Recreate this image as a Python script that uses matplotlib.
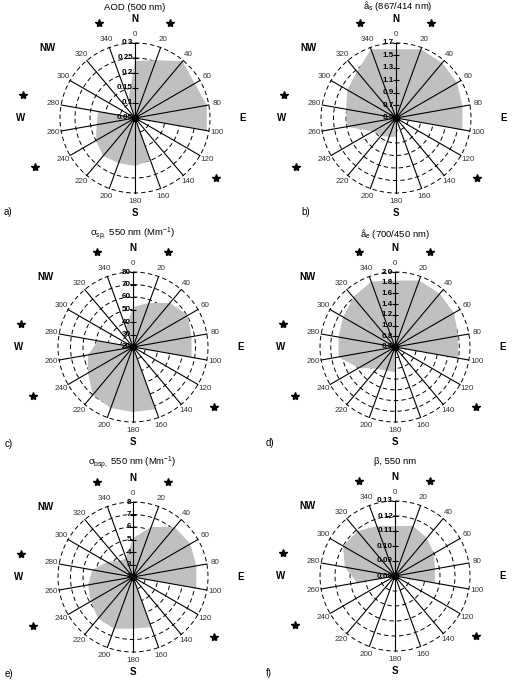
import numpy as np
import matplotlib
matplotlib.use('Agg')
import matplotlib.pyplot as plt

plt.rcParams['font.family'] = ['Liberation Sans', 'DejaVu Sans']
plt.rcParams['mathtext.fontset'] = 'custom'
plt.rcParams['mathtext.rm'] = 'Liberation Sans'
plt.rcParams['mathtext.it'] = 'Liberation Sans:italic'
plt.rcParams['mathtext.bf'] = 'Liberation Sans:bold'
plt.rcParams['lines.scale_dashes'] = False

# ---------------- data ----------------
directions = [0, 20, 40, 60, 80, 100, 120, 140, 160, 180,
              200, 220, 240, 260, 280, 300, 320, 340]

aod = [0.24, 0.255, 0.297, 0.28, 0.293, 0.293, 0.05, 0.05, 0.20, 0.21,
       0.21, 0.215, 0.20, 0.18, 0.175, 0.05, 0.05, 0.115]
alpha_s = [1.60, 1.67, 1.65, 1.63, 1.58, 1.58, 0.5, 0.5, 0.5, 0.80,
           0.82, 0.87, 0.93, 1.30, 1.31, 1.40, 1.47, 1.67]
sigma_sp = [52, 57.6, 66, 70.7, 67.5, 67.5, 20, 20, 73, 72,
            72, 70, 61.6, 56.5, 48.5, 20, 20, 36]
alpha_e = [1.84, 1.92, 1.90, 1.87, 1.80, 1.80, 0.6, 0.6, 0.6, 1.07,
           1.07, 1.13, 1.38, 1.67, 1.67, 1.72, 1.81, 1.90]
sigma_bsp = [5.1, 6.27, 7.2, 7.3, 7.15, 7.15, 2, 2, 6.27, 6.13,
             6.4, 6.35, 5.9, 5.65, 5.3, 4.4, 3.7, 3.6]
beta = [0.1133, 0.1155, 0.113, 0.110, 0.107, 0.107, 0.08, 0.08, 0.08, 0.08,
        0.08, 0.08, 0.08, 0.1056, 0.114, 0.120, 0.119, 0.1155]

aod_ticks = [0.05, 0.1, 0.15, 0.2, 0.25, 0.3]
aod_labels = ['0.05', '0.1', '0.15', '0.2', '0.25', '0.3']
alpha_s_ticks = [0.5, 0.7, 0.9, 1.1, 1.3, 1.5, 1.7]
alpha_s_labels = ['0.5', '0.7', '0.9', '1.1', '1.3', '1.5', '1.7']
sigma_sp_ticks = [20, 30, 40, 50, 60, 70, 80]
sigma_sp_labels = ['20', '30', '40', '50', '60', '70', '80']
alpha_e_ticks = [0.6, 0.8, 1.0, 1.2, 1.4, 1.6, 1.8, 2.0]
alpha_e_labels = ['0.6', '0.8', '1.0', '1.2', '1.4', '1.6', '1.8', '2.0']
sigma_bsp_ticks = [2, 3, 4, 5, 6, 7, 8]
sigma_bsp_labels = ['2', '3', '4', '5', '6', '7', '8']
beta_ticks = [0.08, 0.09, 0.10, 0.11, 0.12, 0.13]
beta_labels = ['0.08', '0.09', '0.10', '0.11', '0.12', '0.13']

titles = ['AOD (500 nm)',
          'å$_{\\rm s}$ (867/414 nm)',
          'σ$_{\\rm sp,}$ 550 nm (Mm$^{-1}$)',
          'å$_{\\rm e}$ (700/450 nm)',
          'σ$_{\\rm bsp,}$ 550 nm (Mm$^{-1}$)',
          'β, 550 nm']
letters = ['a)', 'b)', 'c)', 'd)', 'e)', 'f)']

compass_labels = ['N', 'E', 'S', 'W', 'NW']
star_directions = [339, 20, 281.5, 244, 126.5]

# ---------------- layout (pixels) ----------------
W, H = 516, 686
centers = [(135, 118), (396, 118), (133, 347), (395, 347), (133, 577), (395, 576)]
R = 75
title_pos = [(135, 7), (398, 6), (132, 234), (395, 234), (132, 463), (395, 462)]
letter_pos = [(4, 212), (301, 212), (5, 444), (266, 443), (5, 674), (266, 673)]
compass_pos = [(0, 1.32), (90, 1.43), (180, 1.27), (270, 1.53), (308.8, 1.49)]
star_r = [1.35, 1.35, 1.53, 1.49, 1.35]

panels = [
    (aod, aod_ticks, aod_labels),
    (alpha_s, alpha_s_ticks, alpha_s_labels),
    (sigma_sp, sigma_sp_ticks, sigma_sp_labels),
    (alpha_e, alpha_e_ticks, alpha_e_labels),
    (sigma_bsp, sigma_bsp_ticks, sigma_bsp_labels),
    (beta, beta_ticks, beta_labels),
]

fig = plt.figure(figsize=(W / 100, H / 100), dpi=100)
fig.patch.set_facecolor('white')

theta_dir = np.deg2rad(directions)
theta_fine = np.linspace(0, 2 * np.pi, 361)

for i, (vals, ticks, tlabels) in enumerate(panels):
    cx, cy = centers[i]
    ax = fig.add_axes([(cx - R) / W, (H - cy - R) / H, 2 * R / W, 2 * R / H],
                      projection='polar')
    ax.set_theta_zero_location('N')
    ax.set_theta_direction(-1)
    rmin, rmax = ticks[0], ticks[-1]
    ax.set_ylim(rmin, rmax)
    ax.grid(False)
    ax.set_xticks([])
    ax.set_yticks([])
    ax.spines['polar'].set_visible(False)
    ax.patch.set_visible(False)

    def rf(frac):
        return rmin + frac * (rmax - rmin)

    # dashed rings
    for t in ticks[1:]:
        ax.plot(theta_fine, np.full_like(theta_fine, t), color='black', lw=0.7,
                ls=(0, (3.2, 2.2)), zorder=1, clip_on=False)
    # filled radar polygon
    th = np.append(theta_dir, theta_dir[0])
    vv = np.append(vals, vals[0])
    ax.fill(th, vv, color='#c0c0c0', lw=0, zorder=2, clip_on=False)
    # spokes
    for t in theta_dir:
        ax.plot([t, t], [rmin, rmax], color='black', lw=0.8, zorder=3, clip_on=False)
    # radial tick marks and labels
    ax.plot(np.zeros(len(ticks)), ticks, ls='none', marker='_', ms=5, mew=0.8,
            color='black', zorder=4, clip_on=False)
    for t, lab in zip(ticks, tlabels):
        ax.annotate(lab, xy=(0, t), xytext=(-1.5, 0), textcoords='offset points',
                    ha='right', va='center', fontsize=5.8, fontweight='bold',
                    zorder=5, annotation_clip=False)
    ax.plot([0], [rmin], marker='o', ms=4.5, color='black', zorder=6, clip_on=False)
    # direction labels
    for d in directions:
        ax.text(np.deg2rad(d), rf(1.11), str(d), ha='center', va='center',
                fontsize=5.8, color='#333333')
    # compass labels
    for lab, (ang, fr) in zip(compass_labels, compass_pos):
        ax.text(np.deg2rad(ang), rf(fr), lab, ha='center', va='center',
                fontsize=7, fontweight='bold')
    # significance stars
    for ang, fr in zip(star_directions, star_r):
        ax.plot([np.deg2rad(ang)], [rf(fr)], marker='*', ms=6, color='black',
                clip_on=False)
    # title and letter
    tx, ty = title_pos[i]
    fig.text(tx / W, 1 - ty / H, titles[i], ha='center', va='center', fontsize=6.8)
    lx, ly = letter_pos[i]
    fig.text(lx / W, 1 - ly / H, letters[i], ha='left', va='center', fontsize=7)

fig.savefig('out.png', dpi=100)
